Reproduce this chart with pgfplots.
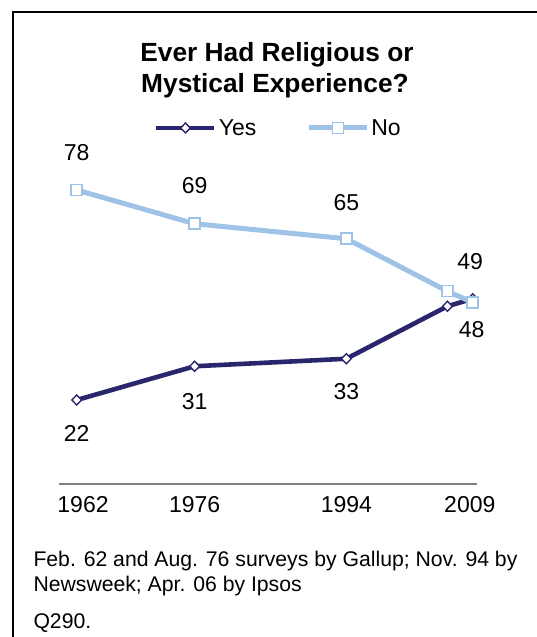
\documentclass[border=0pt]{standalone}
\usepackage{fontspec}
\setmainfont{Liberation Sans}
\usepackage{pgfplots}
\pgfplotsset{compat=1.18}

\definecolor{yescol}{RGB}{41,38,110}
\definecolor{nocol}{RGB}{158,195,230}
\definecolor{axisgray}{RGB}{128,128,128}

\newcommand{\lab}{\fontsize{23}{27}\selectfont}
\newcommand{\ttl}{\fontsize{26.3}{30}\selectfont\bfseries}
\newcommand{\note}{\fontsize{21.2}{25}\selectfont}

\begin{document}
\begin{tikzpicture}[x=1pt,y=1pt]
\useasboundingbox (0,0) rectangle (537,637);
% frame (only left and top edges are visible)
\draw[line width=2pt] (12.7,-10) -- (12.7,625) -- (547,625);

% title
\node[anchor=base, inner sep=0pt, font=\ttl] at (277,575) {Ever Had Religious or};
\node[anchor=base, inner sep=0pt, font=\ttl] at (275,544.5) {Mystical Experience?};

\begin{axis}[
  at={(59pt,153pt)}, anchor=south west,
  scale only axis, width=417.7pt, height=376.5pt,
  xmin=1959.9, xmax=2009.47, ymin=-0.4, ymax=100,
  clip=false,
  axis line style={draw=none},
  major tick length=0pt,
  ytick=\empty,
  xtick={1962.75,1976,1994,2008.65},
  xticklabels={1962,1976,1994,2009},
  xticklabel style={font=\lab, anchor=base, yshift=-28.7pt},
  legend style={draw=none, fill=none, font=\lab, inner sep=0pt,
    nodes={inner sep=2pt},
    at={(0.2274,0.9456)}, anchor=west,
    /tikz/every even column/.append style={column sep=48pt}},
  legend columns=2,
  legend image code/.code={%
    \draw[mark repeat=2,mark phase=2,#1] plot coordinates {(0pt,0pt)(29pt,0pt)(58pt,0pt)};},
]
\draw[axisgray, line width=1.3pt] (rel axis cs:0,0) -- (rel axis cs:1,0);

\addplot[color=yescol, line width=4.6pt, mark=diamond*, mark size=5pt,
  mark options={fill=white, draw=yescol, line width=1.4pt, xscale=1.3}]
  coordinates {(1962,22) (1976,31) (1994,33) (2006,47) (2009,49)};
\addplot[color=nocol, line width=5pt, mark=square*, mark size=5.5pt,
  mark options={fill=white, draw=nocol, line width=1.5pt}]
  coordinates {(1962,78) (1976,69) (1994,65) (2006,51) (2009,48)};
\legend{Yes,No}

% data labels
\node[font=\lab, yshift=37pt] at (axis cs:1962,78) {78};
\node[font=\lab, yshift=38pt] at (axis cs:1976,69) {69};
\node[font=\lab, yshift=36pt] at (axis cs:1994,65) {65};
\node[font=\lab, yshift=37pt, xshift=-2.7pt] at (axis cs:2009,49) {49};
\node[font=\lab, yshift=-27pt, xshift=-1pt] at (axis cs:2009,48) {48};
\node[font=\lab, yshift=-33pt] at (axis cs:1962,22) {22};
\node[font=\lab, yshift=-35pt] at (axis cs:1976,31) {31};
\node[font=\lab, yshift=-33pt] at (axis cs:1994,33) {33};
\end{axis}

% source note
\node[anchor=base west, inner sep=0pt, font=\note] at (33.3,70.3) {Feb. 62 and Aug. 76 surveys by Gallup; Nov. 94 by};
\node[anchor=base west, inner sep=0pt, font=\note] at (33.3,45.3) {Newsweek; Apr. 06 by Ipsos};
\node[anchor=base west, inner sep=0pt, font=\note] at (33.3,9) {Q290.};
\end{tikzpicture}
\end{document}
